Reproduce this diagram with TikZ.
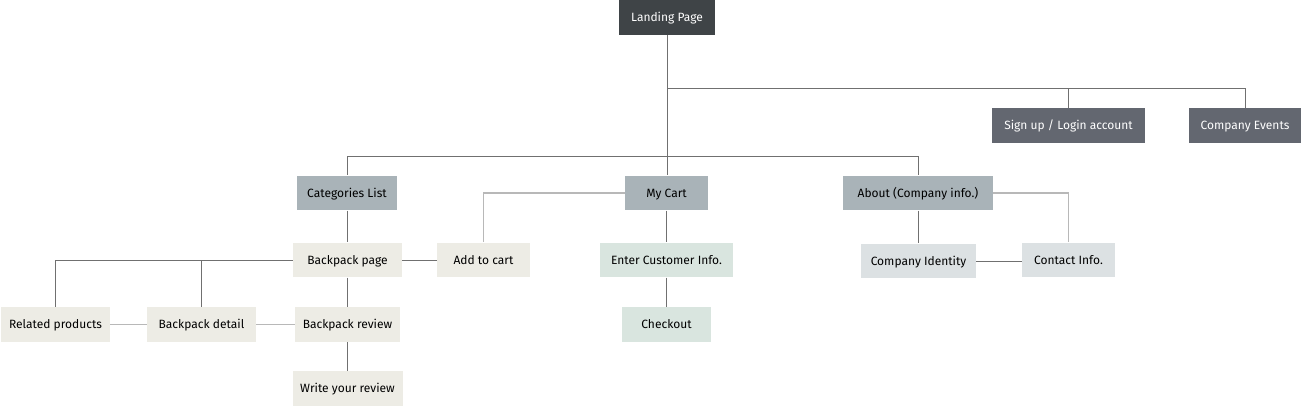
\documentclass[tikz,border=0pt]{standalone}
\usepackage{fontspec}
\setmainfont{Fira Sans}
\definecolor{cdark}{HTML}{3F4447}
\definecolor{cslate}{HTML}{636770}
\definecolor{cgrey}{HTML}{A9B3B8}
\definecolor{cbeige}{HTML}{EDECE5}
\definecolor{cmint}{HTML}{D9E5DF}
\definecolor{cpale}{HTML}{DCE1E3}
\definecolor{lnd}{HTML}{707070}
\definecolor{lnl}{HTML}{B8B8B8}
\begin{document}
\begin{tikzpicture}[x=0.75pt,y=-0.75pt,
  box/.style={rectangle,inner sep=0pt,minimum height=34.5*0.75pt,font=\fontsize{9pt}{10pt}\selectfont,text height=7pt,text depth=0.9pt},
  bdark/.style={box,fill=cdark,text=white},
  bslate/.style={box,fill=cslate,text=white},
  bgrey/.style={box,fill=cgrey,text=black},
  bbeige/.style={box,fill=cbeige,text=black},
  bmint/.style={box,fill=cmint,text=black},
  bpale/.style={box,fill=cpale,text=black},
  ln/.style={draw=lnd,line width=0.75pt},
  lnlight/.style={draw=lnl,line width=1.2pt}]
\useasboundingbox (0,0) rectangle (1302,407);
\node[bdark,minimum width=96*0.75pt] (land) at (667,17.5) {Landing Page};
\node[bslate,minimum width=153*0.75pt] (sign) at (1068.5,125.5) {Sign up / Login account};
\node[bslate,minimum width=112*0.75pt] (events) at (1245,125.5) {Company Events};
\node[bgrey,minimum width=100*0.75pt] (cat) at (347,193) {Categories List};
\node[bgrey,minimum width=83*0.75pt] (cart) at (666.5,193) {My Cart};
\node[bgrey,minimum width=150*0.75pt] (about) at (918,193) {About (Company info.)};
\node[bbeige,minimum width=109*0.75pt] (bpage) at (347.5,260) {Backpack page};
\node[bbeige,minimum width=93*0.75pt] (add) at (483.5,260) {Add to cart};
\node[bmint,minimum width=133*0.75pt] (enter) at (666.5,260) {Enter Customer Info.};
\node[bpale,minimum width=115*0.75pt] (ident) at (918.5,261) {Company Identity};
\node[bpale,minimum width=93*0.75pt] (contact) at (1068.5,260) {Contact Info.};
\node[bbeige,minimum width=109*0.75pt] (related) at (55.5,324.5) {Related products};
\node[bbeige,minimum width=109*0.75pt] (detail) at (201.5,324.5) {Backpack detail};
\node[bbeige,minimum width=105*0.75pt] (review) at (347.5,324.5) {Backpack review};
\node[bmint,minimum width=89*0.75pt] (checkout) at (666.5,324.5) {Checkout};
\node[bbeige,minimum width=110*0.75pt] (write) at (347.5,388.5) {Write your review};
\coordinate (j1) at (667,88);
\coordinate (j2) at (667,156);
% connectors
\draw[ln] (land.south) -- (land.south |- cart.north);
\draw[ln] (j1) -| (events.north);
\draw[ln] (j1 -| sign.north) -- (sign.north);
\draw[ln] (j2 -| cat.north) -- (j2 -| about.north) -- (about.north);
\draw[ln] (j2 -| cat.north) -- (cat.north);
\draw[ln] (cat.south) -- (bpage.north -| cat.south);
\draw[lnlight] (cart.west) -| (add.north);
\draw[ln] (bpage.east) -- (add.west);
\draw[ln] (bpage.west) -| (related.north);
\draw[ln] (bpage.west -| detail.north) -- (detail.north);
\draw[ln] (bpage.south) -- (review.north);
\draw[lnlight] (related.east) -- (detail.west);
\draw[lnlight] (detail.east) -- (review.west);
\draw[ln] (review.south) -- (write.north);
\draw[ln] (cart.south) -- (enter.north);
\draw[ln] (enter.south) -- (checkout.north);
\draw[ln] (about.south) -- (about.south |- ident.north);
\draw[lnlight] (about.east) -| (contact.north);
\draw[ln] (ident.east) -- (ident.east -| contact.west);
\end{tikzpicture}
\end{document}
